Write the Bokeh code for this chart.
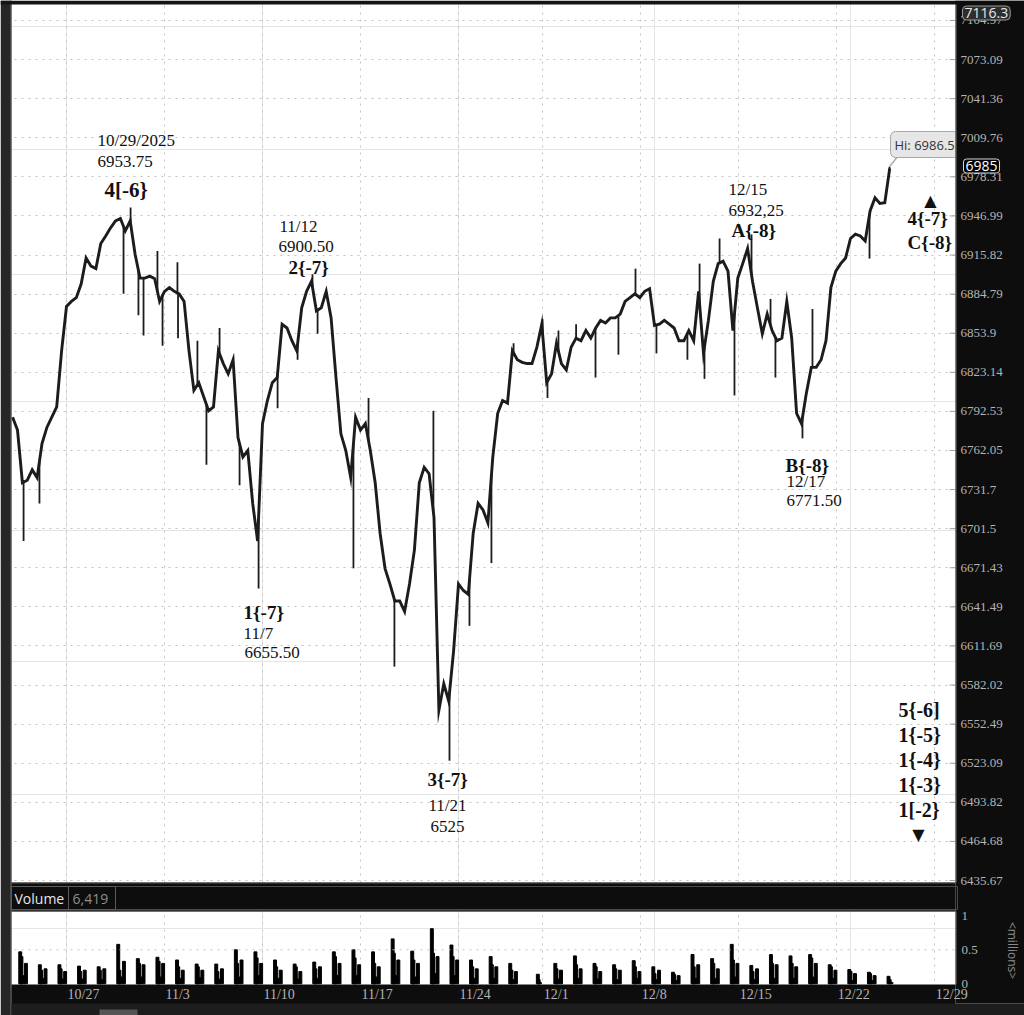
import numpy as np
from bokeh.plotting import figure
from bokeh.models import (Range1d, FixedTicker, Grid, ColumnDataSource, Label,
                          LabelSet, BoxAnnotation, Span, LinearScale)
from bokeh.embed import file_html
from bokeh.resources import INLINE
from bokeh.core.properties import value

# ---------------- trading calendar (x axis in session units) ----------------
session_dates = ["10/22", "10/23", "10/24",
                 "10/27", "10/28", "10/29", "10/30", "10/31",
                 "11/3", "11/4", "11/5", "11/6", "11/7",
                 "11/10", "11/11", "11/12", "11/13", "11/14",
                 "11/17", "11/18", "11/19", "11/20", "11/21",
                 "11/24", "11/25", "11/26", "11/27", "11/28",
                 "12/1", "12/2", "12/3", "12/4", "12/5",
                 "12/8", "12/9", "12/10", "12/11", "12/12",
                 "12/15", "12/16", "12/17", "12/18", "12/19",
                 "12/22", "12/23", "12/24", "12/25", "12/26",
                 "12/29"]
session_len = [1, 1, 1,
               1, 1, 1, 1, 1,
               1, 1, 1, 1, 1,
               1, 1, 1, 1, 1,
               1, 1, 1, 1, 1,
               1, 1, 1, 0.6, 0.7,
               1, 1, 1, 1, 1,
               1, 1, 1, 1, 1,
               1, 1, 1, 1, 1,
               1, 1, 1, 1, 1,
               1]
first_session_start = -3.0
week_labels = ["10/27", "11/3", "11/10", "11/17", "11/24",
               "12/1", "12/8", "12/15", "12/22", "12/29"]

# ---------------- price (/ES, sampled every quarter session) ----------------
price_t0 = -2.75
price_dt = 0.25
price_close = [
    6788, 6778, 6737, 6739, 6747, 6741, 6767.5, 6780, 6788, 6796, 6840,
    6875, 6879, 6882, 6893, 6913.5, 6907, 6905, 6925, 6931, 6937.5,
    6943, 6945, 6935, 6943, 6916.5, 6897.5, 6897.5, 6899, 6897, 6879,
    6887, 6890, 6887, 6885, 6879, 6840, 6809, 6815, 6804, 6793,
    6796, 6840, 6830, 6822, 6833, 6772, 6757, 6762, 6721, 6692,
    6783, 6801, 6815, 6819, 6861, 6858, 6848, 6840, 6874, 6887,
    6895, 6871.5, 6874, 6887, 6866, 6819, 6775, 6762, 6741, 6788,
    6778, 6783, 6762, 6737, 6698, 6671, 6659, 6646, 6646, 6638,
    6659, 6685, 6737, 6749, 6744, 6710, 6563, 6583, 6570, 6608,
    6659, 6654, 6651, 6698, 6721, 6716, 6706, 6757, 6791, 6801,
    6799, 6840, 6833, 6831, 6830, 6830, 6843, 6861, 6815, 6822,
    6846, 6830, 6825, 6843, 6850, 6848, 6856, 6850, 6858, 6864,
    6862, 6866, 6866, 6869, 6879, 6882, 6885, 6882, 6887, 6889,
    6860, 6861, 6864, 6861, 6858, 6848, 6848, 6856, 6848, 6887,
    6838, 6864, 6895, 6909, 6911, 6903, 6856, 6897.5, 6909, 6921,
    6895, 6874, 6853.5, 6869, 6856, 6848, 6850, 6879, 6850, 6791,
    6783, 6807, 6827, 6827, 6833, 6848, 6890, 6903, 6909, 6913.5,
    6929, 6932.5, 6931, 6927, 6951, 6961.5, 6957, 6957.5, 6985]

# intrabar extremes (wicks): time in session units, extreme price
wick_u = [-2.19, -1.38, 2.91, 3.27, 3.67, 3.93, 4.64, 4.90, 5.66, 5.69,
          6.68, 7.14, 7.81, 8.83, 9.80, 10.77, 11.79, 12.55, 12.81, 14.64,
          15.41, 16.73, 18.72, 19.54, 20.56, 21.68, 22.81, 24.29, 24.54, 25.10,
          26.00, 26.99, 28.16, 29.03, 30.10, 31.68, 32.30, 32.55, 33.32, 34.08,
          34.95, 35.92, 36.17, 37.55, 38.06, 40.97, 41.99]
wick_price = [6692, 6721, 6885, 6953.75, 6868, 6852, 6919, 6844, 6910, 6850,
              6848, 6751, 6858, 6735, 6655.5, 6795, 6833, 6900.5, 6853.5, 6671,
              6803, 6596, 6793, 6525, 6627, 6675, 6846, 6865, 6803, 6856,
              6861, 6819, 6837, 6905, 6838, 6833, 6909, 6818, 6929, 6805,
              6932.25, 6881, 6819, 6771.5, 6873, 6913, 6986.5]

price_ticks = [6435.67, 6464.68, 6493.82, 6523.09, 6552.49, 6582.02, 6611.69,
               6641.49, 6671.43, 6701.5, 6731.7, 6762.05, 6792.53, 6823.14,
               6853.9, 6884.79, 6915.82, 6946.99, 6978.31, 7009.76, 7041.36,
               7073.09, 7104.97]
price_top = "7116.3"
last_price = "6985"
high_price = 6986.5
high_u = 41.99
high_label = "Hi: 6986.5"

# wave pivots
piv_u = [3.27, 12.55, 9.80, 19.54, 34.95, 37.55]
piv_price = [6953.75, 6900.5, 6655.5, 6525, 6932.25, 6771.5]
piv_date = ["10/29/2025", "11/12", "11/7", "11/21", "12/15", "12/17"]
piv_price_txt = ["6953.75", "6900.50", "6655.50", "6525", "6932,25", "6771.50"]
piv_wave = ["4[-6}", "2{-7}", "1{-7}", "3{-7}", "A{-8}", "B{-8}"]
proj_up = ["4{-7}", "C{-8}"]
proj_down = ["5{-6]", "1{-5}", "1{-4}", "1{-3}", "1[-2}"]

# ---------------- volume (millions) ----------------
vol_dates = ["10/22", "10/23", "10/24",
             "10/27", "10/28", "10/29", "10/30", "10/31",
             "11/3", "11/4", "11/5", "11/6", "11/7",
             "11/10", "11/11", "11/12", "11/13", "11/14",
             "11/17", "11/18", "11/19", "11/20", "11/21",
             "11/24", "11/25", "11/26", "11/28",
             "12/1", "12/2", "12/3", "12/4", "12/5",
             "12/8", "12/9", "12/10", "12/11", "12/12",
             "12/15", "12/16", "12/17", "12/18", "12/19",
             "12/22", "12/23", "12/24"]
vol_open = [.47, .28, .28, .26, .25, .58, .37, .39, .35, .29, .29, .50, .47,
            .35, .29, .32, .47, .50, .47, .66, .48, .81, .57, .35, .40, .30, .14,
            .30, .41, .30, .28, .34, .25, .17, .43, .37, .58, .27, .43, .41, .43,
            .28, .21, .17, .11]
vol_second = [.40, .20, .22, .18, .20, .20, .30, .33, .25, .25, .18, .30, .38,
              .25, .25, .22, .40, .38, .30, .45, .35, .45, .40, .25, .28, .20, .06,
              .22, .28, .25, .22, .25, .15, .14, .25, .30, .35, .18, .30, .30, .38,
              .25, .18, .15, .06]
vol_mid = [.12, .08, .07, .07, .06, .10, .10, .10, .08, .09, .07, .10, .12,
           .08, .07, .08, .12, .12, .10, .12, .10, .15, .12, .08, .08, .06, .02,
           .07, .08, .07, .06, .08, .06, .05, .08, .08, .10, .06, .08, .08, .10,
           .08, .05, .05, .02]
vol_close = [.30, .22, .18, .20, .22, .33, .28, .30, .20, .20, .22, .35, .30,
             .20, .18, .25, .30, .28, .25, .35, .30, .40, .35, .22, .25, .18, .0,
             .20, .22, .18, .20, .18, .20, .12, .28, .22, .30, .22, .28, .25, .30,
             .20, .15, .12, .0]
vol_ticks = [0, 0.5, 1]
vol_tick_txt = ["0", "0.5", "1"]
vol_title = "Volume"
vol_last = "6,419"
vol_unit = "<millions>"

# ---------------- layout constants (canvas pixels) ----------------
W, H = 1024, 1015
X0_PX, PX_PER_DAY = 66.0, 19.6          # 10/27 gridline, width of a session
P_REF_Y, P_REF, PX_PER_LOG = 880.0, 6435.67, 8692.4
V_ZERO_Y, V_PX_PER_UNIT = 983.3, 68.0
AXIS_X = 955                             # left edge of the price-scale panel
HEAD_TOP, HEAD_BOT = 882, 911            # volume header band
VOL_AXIS_TOP = 984                       # top of date-label band
STRIP_TOP = 1003
BG = "#0d0d0d"
GRID = "#c2c2c2"
AXTXT = "#b4b4b4"
INK = "#1c1c1c"
SERIF = "Liberation Serif"
SANS = "Open Sans"


def ux(px):
    return (px - X0_PX) / PX_PER_DAY


def sy(py):          # screen y measured from the bottom of the canvas
    return H - py


def price_at(py):
    return P_REF * np.exp((P_REF_Y - py) / PX_PER_LOG)


# ---------------- derived ----------------
starts = first_session_start + np.concatenate([[0.0], np.cumsum(session_len)[:-1]])
sess_start = dict(zip(session_dates, starts))
sess_len = dict(zip(session_dates, session_len))
week_pos = [float(sess_start[d]) for d in week_labels]
price_u = price_t0 + price_dt * np.arange(len(price_close))
wick_base = np.interp(wick_u, price_u, price_close)

v_bot = -(H - V_ZERO_Y) / V_PX_PER_UNIT
v_top = V_ZERO_Y / V_PX_PER_UNIT

p = figure(width=W, height=H, x_range=Range1d(ux(0), ux(W)),
           y_range=Range1d(price_at(H), price_at(0)), y_axis_type="log",
           x_axis_location=None, y_axis_location=None,
           output_backend="svg", toolbar_location=None,
           min_border=0, min_border_left=0, min_border_right=0,
           min_border_top=0, min_border_bottom=0,
           background_fill_color="white", border_fill_color=BG,
           outline_line_color=None)
p.extra_y_ranges = {"vol": Range1d(v_bot, v_top)}
p.extra_y_scales = {"vol": LinearScale()}

# grids
p.add_layout(Grid(dimension=0, ticker=FixedTicker(ticks=week_pos),
                  grid_line_color=GRID, grid_line_dash="2 5"))
p.add_layout(Grid(dimension=1, ticker=FixedTicker(ticks=price_ticks),
                  grid_line_color=GRID, grid_line_dash="2 5"))
p.add_layout(Span(location=0.5, dimension="width", y_range_name="vol",
                  line_color=GRID, line_dash="2 5", line_width=1))

# price
p.line(price_u, price_close, line_color=INK, line_width=2.9, line_join="miter")
p.segment(x0=wick_u, y0=wick_base, x1=wick_u, y1=wick_price,
          line_color=INK, line_width=1.8)

# volume bars
bar_frac = [0.64, 0.70, 0.79, 0.93]
vx, vtop = [], []
for d, a, b, c, e in zip(vol_dates, vol_open, vol_second, vol_mid, vol_close):
    for f, v in zip(bar_frac, (a, b, c, e)):
        if v > 0:
            vx.append(sess_start[d] + sess_len[d] * f)
            vtop.append(v)
p.vbar(x=vx, top=vtop, bottom=0, width=0.15, color="#000000", y_range_name="vol")

# pivot annotations
ann_text, ann_x, ann_y, ann_dx, ann_dy, ann_style, ann_size = [], [], [], [], [], [], []
above = {0: ((-33, -67), (-33, -46), (-26, -17), "21px"),
         1: ((-33, -48), (-34, -28), (-24, -7), "19px"),
         4: ((-23, -45), (-23, -24), (-20, -4), "19px")}
below = {2: ((-15, 24), (-15, 45), (-14, 64)),
         3: ((-22, 19), (-21, 45), (-19, 66)),
         5: ((-17, 27), (-16, 43), (-16, 62))}
for i in range(len(piv_u)):
    if i in above:
        (d1, d2, d3, wsz) = above[i]
        items = [(piv_date[i], d1, "normal", "17px"),
                 (piv_price_txt[i], d2, "normal", "17px"),
                 (piv_wave[i], d3, "bold", wsz)]
    else:
        (d1, d2, d3) = below[i]
        items = [(piv_wave[i], d1, "bold", "19px"),
                 (piv_date[i], d2, "normal", "17px"),
                 (piv_price_txt[i], d3, "normal", "17px")]
    for t, (dx, dy), st, sz in items:
        ann_text.append(t); ann_x.append(piv_u[i]); ann_y.append(piv_price[i])
        ann_dx.append(dx); ann_dy.append(dy); ann_style.append(st); ann_size.append(sz)
src = ColumnDataSource(dict(text=ann_text, x=ann_x, y=ann_y, dx=ann_dx, dy=ann_dy,
                            style=ann_style, size=ann_size))
p.text(x="x", y="y", text="text", x_offset="dx", y_offset="dy", source=src,
       text_font=value(SERIF), text_font_style="style", text_font_size="size",
       text_color="#111111", text_align="left", text_baseline="alphabetic")

# projected wave labels
for j, t in enumerate(proj_up):
    p.add_layout(Label(x=907, y=sy(218) - 24 * j, x_units="screen", y_units="screen",
                       text=t, text_font=SERIF, text_font_style="bold",
                       text_font_size="19px", text_color="#111111",
                       text_baseline="alphabetic"))
p.add_layout(Label(x=930, y=sy(200), x_units="screen", y_units="screen", text="▲",
                   text_font="DejaVu Sans", text_font_size="16px",
                   text_color="#111111", text_align="center",
                   text_baseline="alphabetic"))
for j, t in enumerate(proj_down):
    p.add_layout(Label(x=898, y=sy(709) - 25 * j, x_units="screen", y_units="screen",
                       text=t, text_font=SERIF, text_font_style="bold",
                       text_font_size="20px", text_color="#111111",
                       text_baseline="alphabetic"))
p.add_layout(Label(x=918, y=sy(834), x_units="screen", y_units="screen", text="▼",
                   text_font="DejaVu Sans", text_font_size="16px",
                   text_color="#111111", text_align="center",
                   text_baseline="alphabetic"))

# high bubble with its pointer (cut by the price-scale panel, as in the platform)
p.segment(x0=[high_u], y0=[high_price], x1=[ux(898)], y1=[price_at(155)],
          line_color="#a8a8a8", line_width=1.5)
p.add_layout(Label(x=890, y=sy(144), x_units="screen", y_units="screen",
                   text=high_label, text_font=SANS, text_font_size="13px",
                   text_color="#333333", text_baseline="middle",
                   background_fill_color="#e6e6e6", border_line_color="#a8a8a8",
                   padding=4, border_radius=5))


def box(l, r, top_px, bot_px, color, line=None):
    p.add_layout(BoxAnnotation(left=l, right=r, top=sy(top_px), bottom=sy(bot_px),
                               left_units="screen", right_units="screen",
                               top_units="screen", bottom_units="screen",
                               fill_color=color, fill_alpha=1.0 if color else 0.0,
                               line_color=line, line_alpha=1.0 if line else 0.0,
                               level="annotation"))


# dark chrome of the trading platform
box(0, 11, 0, H, "#262626")
box(10, 11, 0, H, "#6a6a6a")
box(0, W, 0, 4, "#141414")
box(11, AXIS_X, HEAD_TOP, HEAD_BOT, BG)
box(11, AXIS_X, VOL_AXIS_TOP, H, BG)
box(11, W, STRIP_TOP, H, "#1d1d1d")
box(99, 137, 1009, H, "#555555")
box(AXIS_X, W, 0, STRIP_TOP, BG)
box(AXIS_X, AXIS_X + 1, 4, HEAD_TOP, "#7a7a7a")
box(AXIS_X, AXIS_X + 1, HEAD_BOT, VOL_AXIS_TOP, "#7a7a7a")
box(11, AXIS_X, HEAD_BOT - 1, HEAD_BOT, "#5a5a5a")
box(11, AXIS_X, HEAD_TOP, HEAD_TOP + 1, "#5a5a5a")
# header boxes
box(11, AXIS_X + 2, 886, 909, None, "#4a4a4a")
box(11, 68, 886, 909, None, "#5a5a5a")
box(68, 115, 886, 909, None, "#5a5a5a")
p.add_layout(Label(x=14, y=sy(898), x_units="screen", y_units="screen",
                   text=vol_title, text_font=SANS, text_font_size="14px",
                   text_color="#e6e6e6", text_baseline="middle"))
p.add_layout(Label(x=72, y=sy(898), x_units="screen", y_units="screen",
                   text=vol_last, text_font=SANS, text_font_size="14px",
                   text_color="#8e8e8e", text_baseline="middle"))

# price scale: ticks and labels
p.segment(x0=[ux(AXIS_X - 6)] * len(price_ticks), x1=[ux(AXIS_X)] * len(price_ticks),
          y0=price_ticks, y1=price_ticks, line_color="#a0a0a0", line_width=1)
psrc = ColumnDataSource(dict(x=[ux(AXIS_X + 5)] * len(price_ticks), y=price_ticks,
                             t=[str(v) for v in price_ticks]))
p.add_layout(LabelSet(x="x", y="y", text="t", source=psrc, text_font=SANS,
                      text_font_size="13px", text_color=AXTXT,
                      text_baseline="middle", text_align="left"))
# volume scale
vsrc = ColumnDataSource(dict(x=[ux(AXIS_X + 6)] * len(vol_ticks), y=vol_ticks,
                             t=vol_tick_txt))
p.add_layout(LabelSet(x="x", y="y", text="t", source=vsrc, y_range_name="vol",
                      text_font=SANS, text_font_size="13px", text_color=AXTXT,
                      text_baseline="middle", text_align="left"))
p.add_layout(Label(x=1012, y=sy(950), x_units="screen", y_units="screen",
                   text=vol_unit, text_font=SANS, text_font_size="12px",
                   text_color="#8a8a8a", text_align="center",
                   text_baseline="middle", angle=-np.pi / 2))
# dates
dsrc = ColumnDataSource(dict(x=week_pos, y=[sy(986)] * len(week_pos), t=week_labels))
p.add_layout(LabelSet(x="x", y="y", text="t", source=dsrc, y_units="screen",
                      x_offset=1, text_font=SANS, text_font_size="14px",
                      text_color=AXTXT, text_baseline="top", text_align="left"))

# price bubbles on the scale
p.add_layout(Label(x=962, y=sy(12.5), x_units="screen", y_units="screen",
                   text=price_top, text_font=SANS, text_font_size="14px",
                   text_color="#e8e8e8", text_baseline="middle",
                   background_fill_color="#2e2e2e", border_line_color="#9a9a9a",
                   padding=2, border_radius=4))
p.add_layout(Label(x=963, y=sy(165.5), x_units="screen", y_units="screen",
                   text=last_price, text_font=SANS, text_font_size="14px",
                   text_color="#ffffff", text_baseline="middle",
                   background_fill_color="#000000", border_line_color="#d8d8d8",
                   padding=2, border_radius=3))

open("out.html", "w").write(file_html(p, INLINE))
